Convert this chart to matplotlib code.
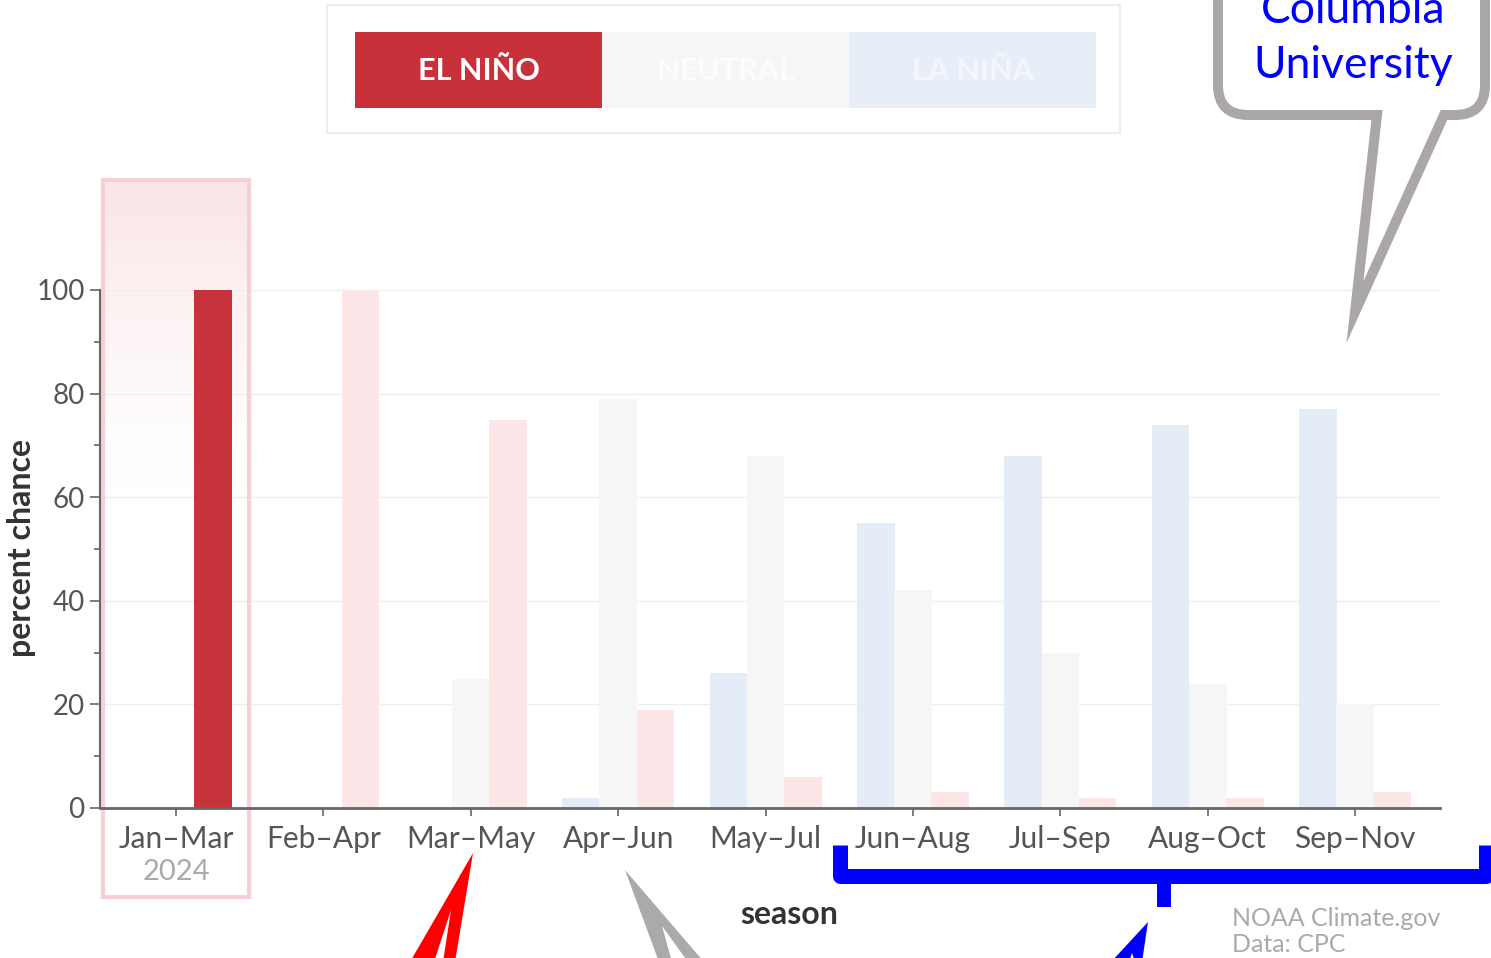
import numpy as np
import matplotlib.pyplot as plt
from matplotlib.patches import Rectangle, Polygon, PathPatch
from matplotlib.path import Path
from matplotlib import font_manager

plt.rcParams['font.family'] = ['Lato', 'DejaVu Sans']

# ENSO probability forecast by season (percent chance)
seasons = ["Jan–Mar", "Feb–Apr", "Mar–May", "Apr–Jun", "May–Jul",
           "Jun–Aug", "Jul–Sep", "Aug–Oct", "Sep–Nov"]
la_nina = [0, 0, 0, 2, 26, 55, 68, 74, 77]
neutral = [0, 0, 25, 79, 68, 42, 30, 24, 20]
el_nino = [100, 100, 75, 19, 6, 3, 2, 2, 3]
legend_labels = ["EL NIÑO", "NEUTRAL", "LA NIÑA"]
year_label = "2024"

W, H = 1491, 958
fig = plt.figure(figsize=(W / 100, H / 100), dpi=100)

# main chart axes (pixel layout)
ax = fig.add_axes([100 / W, (H - 808) / H, 1340 / W, 518 / H])

x = np.arange(len(seasons))
bw = 0.255
off = 0.252

red_on, red_off = '#c8323a', '#fce6e7'
grey_off, blue_off = '#f6f6f6', '#e4ecf8'

el_colors = [red_on] + [red_off] * (len(seasons) - 1)
ax.bar(x - off, la_nina, bw, color=blue_off, zorder=2)
ax.bar(x, neutral, bw, color=grey_off, zorder=2)
ax.bar(x + off, el_nino, bw, color=el_colors, zorder=2)

# highlight box for the current season
grad = np.zeros((100, 1, 4))
grad[:, :, 0:3] = (0.98, 0.88, 0.89)
grad[:, 0, 3] = 0.85 * np.linspace(1, 0, 100) ** 1.4
ax.imshow(grad, extent=(-0.49, 0.49, 60, 121), origin='upper', aspect='auto',
          zorder=0.4, clip_on=False)
ax.add_patch(Rectangle((-0.495, -17.2), 0.99, 138.4, fill=False, ec='#f6d0d4',
                       lw=3, clip_on=False, zorder=0.6))

ax.set_xlim(-0.516, 8.576)
ax.set_ylim(0, 100)

ax.set_yticks(range(0, 101, 20))
ax.set_yticks(range(10, 100, 20), minor=True)
ax.set_xticks(x)
ax.set_xticklabels(seasons)
ax.tick_params(axis='y', which='major', length=7, width=1.2, color='#666666',
               labelsize=20, labelcolor='#555555', pad=4)
ax.tick_params(axis='y', which='minor', length=4, width=1.2, color='#666666')
ax.tick_params(axis='x', length=6, width=1.2, color='#666666',
               labelsize=21.5, labelcolor='#555555', pad=6)

ax.grid(axis='y', color='#eeeeee', lw=1)
ax.set_axisbelow(True)
for s in ['top', 'right']:
    ax.spines[s].set_visible(False)
ax.spines['left'].set_bounds(0, 100)
ax.spines['left'].set_color('#666666')
ax.spines['left'].set_linewidth(1.5)
ax.spines['bottom'].set_color('#666666')
ax.spines['bottom'].set_linewidth(2)
ax.patch.set_visible(False)

ax.text(0, -12.3, year_label, ha='center', va='center', fontsize=21,
        color='#aaaaaa', clip_on=False)

# overlay in pixel coordinates for legend, labels and callouts
ov = fig.add_axes([0, 0, 1, 1])
ov.set_xlim(0, W)
ov.set_ylim(H, 0)
ov.axis('off')
ov.set_zorder(5)

ov.text(22, 548, "percent chance", rotation=90, ha='center', va='center',
        fontsize=23, fontweight='bold', color='#333333')
ov.text(789, 914, "season", ha='center', va='center', fontsize=23,
        fontweight='bold', color='#333333')
ov.text(1232, 918, "NOAA Climate.gov", ha='left', va='center', fontsize=18,
        color='#aaaaaa')
ov.text(1232, 945, "Data: CPC", ha='left', va='center', fontsize=18,
        color='#aaaaaa')

# legend buttons
names = {f.name for f in font_manager.fontManager.ttflist}
if 'Liberation Sans Narrow' in names:
    leg_font, leg_size = 'Liberation Sans Narrow', 24
else:
    leg_font, leg_size = 'Lato', 22
ov.add_patch(Rectangle((327, 5), 793, 128, fc='white', ec='#ededed', lw=1.5))
btn_colors = ['#c8313a', '#f6f6f6', '#e8eef8']
txt_colors = ['white', '#fcfcfc', '#f3f6fc']
for i, lab in enumerate(legend_labels):
    bx = 355 + i * 247
    ov.add_patch(Rectangle((bx, 32), 247, 76, fc=btn_colors[i], ec='none'))
    ov.text(bx + 123.5, 71, lab, ha='center', va='center', fontsize=leg_size,
            fontweight='bold', color=txt_colors[i], family=leg_font)

# speech bubble top right
L, R, B, r, T = 1218, 1485, 115, 30, -40
verts = [(L, T), (L, B - r), (L, B), (L + r, B), (1377, B), (1355, 312),
         (1444, B), (R - r, B), (R, B), (R, B - r), (R, T)]
codes = [Path.MOVETO, Path.LINETO, Path.CURVE3, Path.CURVE3, Path.LINETO,
         Path.LINETO, Path.LINETO, Path.LINETO, Path.CURVE3, Path.CURVE3,
         Path.LINETO]
ov.add_patch(PathPatch(Path(verts, codes), fc='white', ec='#aba7a6', lw=7.2,
                       joinstyle='miter'))
ov.text(1353, 38, "Columbia\nUniversity", ha='center', va='center',
        fontsize=32, color='#0000ff', linespacing=1.45)

# callout tails and bracket at the bottom
ov.add_patch(Polygon([(410, 962), (473, 853), (455, 962), (443, 962),
                      (451, 910), (434, 962)], closed=True, fc='#ff0000', ec='none'))
ov.add_patch(Polygon([(625, 870), (704, 962), (688, 962), (662, 926),
                      (672, 962), (659, 962)], closed=True, fc='#aaaaaa', ec='none'))
ov.add_patch(Polygon([(1148, 922), (1142, 962), (1135, 962), (1132, 953),
                      (1129, 962), (1111, 962)], closed=True, fc='#0000ff', ec='none'))
ov.plot([839.5, 839.5, 1486, 1486], [845, 875.5, 875.5, 845], color='#0000ff',
        lw=10.8, solid_joinstyle='round', solid_capstyle='butt')
ov.add_patch(Rectangle((1157, 875), 14, 32, fc='#0000ff', ec='none'))

fig.savefig('out.png', dpi=100)
